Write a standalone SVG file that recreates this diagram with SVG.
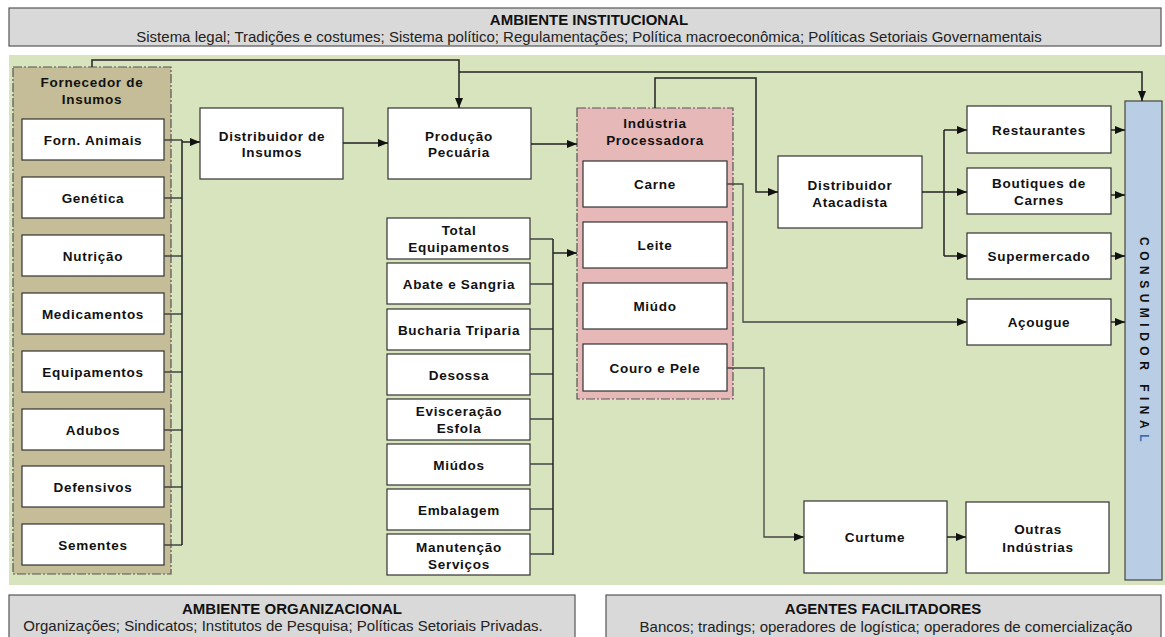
<svg xmlns="http://www.w3.org/2000/svg" width="1165" height="637" viewBox="0 0 1165 637">
  <style>
    .env { fill: #d9d9d9; stroke: #555; stroke-width: 1.2; }
    .envTitle { font: bold 15px "Liberation Sans", Arial, sans-serif; fill: #111; text-anchor: middle; }
    .envSub { font: 15px "Liberation Sans", Arial, sans-serif; fill: #222; text-anchor: middle; }
    .box { fill: #fff; stroke: #333; stroke-width: 1.2; }
    .lbl { font: bold 13.5px "Liberation Sans", Arial, sans-serif; letter-spacing: 0.7px; fill: #111; text-anchor: middle; }
    .group { stroke: #555; stroke-width: 1.2; stroke-dasharray: 9 2 2 2; }
    .wire { fill: none; stroke: #222; stroke-width: 1.5; }
    .thin { fill: none; stroke: #444; stroke-width: 1.3; }
    .arr { marker-end: url(#head); }
  </style>
  <defs>
    <marker id="head" markerUnits="userSpaceOnUse" markerWidth="10" markerHeight="10" refX="10" refY="5" orient="auto">
      <path d="M0,1 L10,5 L0,9 z" fill="#111"/>
    </marker>
  </defs>

  <!-- institutional environment band -->
  <g id="ambiente-institucional">
    <rect class="env" x="9" y="8" width="1152" height="38"/>
    <text class="envTitle" x="589" y="25">AMBIENTE INSTITUCIONAL</text>
    <text class="envSub" x="589" y="42">Sistema legal; Tradições e costumes; Sistema político; Regulamentações; Política macroeconômica; Políticas Setoriais Governamentais</text>
  </g>

  <!-- chain background -->
  <rect x="9" y="55" width="1156" height="530" fill="#d8e4bd"/>

  <!-- input suppliers -->
  <g id="fornecedor-insumos">
    <rect class="group" x="13" y="67" width="158" height="507" fill="#c4bd97"/>
    <text class="lbl" x="92" y="87">Fornecedor de</text>
    <text class="lbl" x="92" y="104">Insumos</text>
  </g>
  <g id="forn-animais"><rect class="box" x="22" y="119" width="142" height="41"/><text class="lbl" x="93" y="145">Forn. Animais</text></g>
  <g id="genetica"><rect class="box" x="22" y="177" width="142" height="41"/><text class="lbl" x="93" y="203">Genética</text></g>
  <g id="nutricao"><rect class="box" x="22" y="235" width="142" height="41"/><text class="lbl" x="93" y="261">Nutrição</text></g>
  <g id="medicamentos"><rect class="box" x="22" y="293" width="142" height="41"/><text class="lbl" x="93" y="319">Medicamentos</text></g>
  <g id="equipamentos"><rect class="box" x="22" y="351" width="142" height="41"/><text class="lbl" x="93" y="377">Equipamentos</text></g>
  <g id="adubos"><rect class="box" x="22" y="409" width="142" height="41"/><text class="lbl" x="93" y="435">Adubos</text></g>
  <g id="defensivos"><rect class="box" x="22" y="466" width="142" height="41"/><text class="lbl" x="93" y="492">Defensivos</text></g>
  <g id="sementes"><rect class="box" x="22" y="524" width="142" height="41"/><text class="lbl" x="93" y="550">Sementes</text></g>

  <g id="distribuidor-insumos"><rect class="box" x="200" y="108" width="143" height="71"/><text class="lbl" x="272" y="141">Distribuidor de</text><text class="lbl" x="272" y="157">Insumos</text></g>
  <g id="producao-pecuaria"><rect class="box" x="388" y="108" width="143" height="71"/><text class="lbl" x="459" y="141">Produção</text><text class="lbl" x="459" y="157">Pecuária</text></g>

  <!-- equipment items -->
  <g id="total-equipamentos"><rect class="box" x="387" y="218" width="143" height="41"/><text class="lbl" x="459" y="235">Total</text><text class="lbl" x="459" y="252">Equipamentos</text></g>
  <g id="abate-sangria"><rect class="box" x="387" y="263" width="143" height="41"/><text class="lbl" x="459" y="289">Abate e Sangria</text></g>
  <g id="bucharia-triparia"><rect class="box" x="387" y="309" width="143" height="41"/><text class="lbl" x="459" y="335">Bucharia Triparia</text></g>
  <g id="desossa"><rect class="box" x="387" y="354" width="143" height="41"/><text class="lbl" x="459" y="380">Desossa</text></g>
  <g id="evisceracao-esfola"><rect class="box" x="387" y="399" width="143" height="41"/><text class="lbl" x="459" y="416">Evisceração</text><text class="lbl" x="459" y="433">Esfola</text></g>
  <g id="miudos"><rect class="box" x="387" y="444" width="143" height="41"/><text class="lbl" x="459" y="470">Miúdos</text></g>
  <g id="embalagem"><rect class="box" x="387" y="489" width="143" height="41"/><text class="lbl" x="459" y="515">Embalagem</text></g>
  <g id="manutencao-servicos"><rect class="box" x="387" y="534" width="143" height="41"/><text class="lbl" x="459" y="552">Manutenção</text><text class="lbl" x="459" y="569">Serviços</text></g>

  <!-- processing industry -->
  <g id="industria-processadora">
    <rect class="group" x="577" y="108" width="156" height="291" fill="#e6b9b8"/>
    <text class="lbl" x="655" y="128">Indústria</text>
    <text class="lbl" x="655" y="145">Processadora</text>
  </g>
  <g id="carne"><rect class="box" x="583" y="161" width="144" height="46"/><text class="lbl" x="655" y="189">Carne</text></g>
  <g id="leite"><rect class="box" x="583" y="222" width="144" height="46"/><text class="lbl" x="655" y="250">Leite</text></g>
  <g id="miudo"><rect class="box" x="583" y="283" width="144" height="46"/><text class="lbl" x="655" y="311">Miúdo</text></g>
  <g id="couro-pele"><rect class="box" x="583" y="344" width="144" height="47"/><text class="lbl" x="655" y="373">Couro e Pele</text></g>

  <g id="distribuidor-atacadista"><rect class="box" x="778" y="156" width="144" height="72"/><text class="lbl" x="850" y="190">Distribuidor</text><text class="lbl" x="850" y="207">Atacadista</text></g>

  <g id="restaurantes"><rect class="box" x="967" y="106" width="144" height="47"/><text class="lbl" x="1039" y="135">Restaurantes</text></g>
  <g id="boutiques-carnes"><rect class="box" x="967" y="168" width="144" height="46"/><text class="lbl" x="1039" y="188">Boutiques de</text><text class="lbl" x="1039" y="205">Carnes</text></g>
  <g id="supermercado"><rect class="box" x="967" y="233" width="144" height="46"/><text class="lbl" x="1039" y="261">Supermercado</text></g>
  <g id="acougue"><rect class="box" x="967" y="299" width="144" height="46"/><text class="lbl" x="1039" y="327">Açougue</text></g>

  <g id="curtume"><rect class="box" x="804" y="501" width="143" height="72"/><text class="lbl" x="875" y="542">Curtume</text></g>
  <g id="outras-industrias"><rect class="box" x="966" y="502" width="143" height="71"/><text class="lbl" x="1038" y="534">Outras</text><text class="lbl" x="1038" y="552">Indústrias</text></g>

  <!-- final consumer -->
  <g id="consumidor-final">
    <rect x="1125" y="101" width="37" height="479" fill="#b9cde5" stroke="#444" stroke-width="1.2"/>
    <text transform="translate(1140,342) rotate(90)" font-family="'Liberation Sans', Arial, sans-serif" font-weight="bold" font-size="12" letter-spacing="5.5" fill="#111" text-anchor="middle">CONSUMIDOR FINA<tspan fill="#3a6fb5">L</tspan></text>
  </g>

  <!-- connectors -->
  <g id="connectors">
    <!-- supplier bus -->
    <path class="thin" d="M164,140 H182 M164,198 H182 M164,256 H182 M164,314 H182 M164,372 H182 M164,430 H182 M164,487 H182 M164,545 H182"/>
    <path class="wire" d="M182,140 V545"/>
    <path class="wire arr" d="M182,142 H200"/>
    <path class="wire arr" d="M343,143 H388"/>
    <path class="wire arr" d="M531,144 H577"/>
    <!-- top feeds -->
    <path class="wire arr" d="M92,67 V60 H459 V108"/>
    <path class="wire arr" d="M459,72 H1142 V101"/>
    <path class="wire arr" d="M655,108 V78 H756 V192 H778"/>
    <!-- wholesale fan-out -->
    <path class="wire" d="M922,192 H944 M944,130 V256"/>
    <path class="wire arr" d="M944,130 H967"/>
    <path class="wire arr" d="M944,192 H967"/>
    <path class="wire arr" d="M944,256 H967"/>
    <!-- retail to consumer -->
    <path class="wire arr" d="M1111,130 H1125"/>
    <path class="wire arr" d="M1111,195 H1125"/>
    <path class="wire arr" d="M1111,256 H1125"/>
    <path class="wire arr" d="M1111,322 H1125"/>
    <!-- meat and hides -->
    <path class="thin arr" d="M727,184 H743 V322 H967"/>
    <path class="thin arr" d="M727,368 H764 V537 H804"/>
    <path class="wire arr" d="M947,537 H966"/>
    <!-- equipment bus -->
    <path class="thin" d="M530,239 H553 M530,284 H553 M530,329 H553 M530,374 H553 M530,419 H553 M530,464 H553 M530,509 H553 M530,554 H553"/>
    <path class="wire" d="M553,239 V555"/>
    <path class="wire arr" d="M553,253 H577"/>
  </g>

  <!-- bottom bands -->
  <g id="ambiente-organizacional">
    <rect class="env" x="9" y="595" width="566" height="50"/>
    <text class="envTitle" x="292" y="614">AMBIENTE ORGANIZACIONAL</text>
    <text class="envSub" x="283" y="631">Organizações; Sindicatos; Institutos de Pesquisa; Políticas Setoriais Privadas.</text>
  </g>
  <g id="agentes-facilitadores">
    <rect class="env" x="606" y="595" width="555" height="50"/>
    <text class="envTitle" x="883" y="614">AGENTES FACILITADORES</text>
    <text class="envSub" x="886" y="632">Bancos; tradings; operadores de logística; operadores de comercialização</text>
  </g>
</svg>
